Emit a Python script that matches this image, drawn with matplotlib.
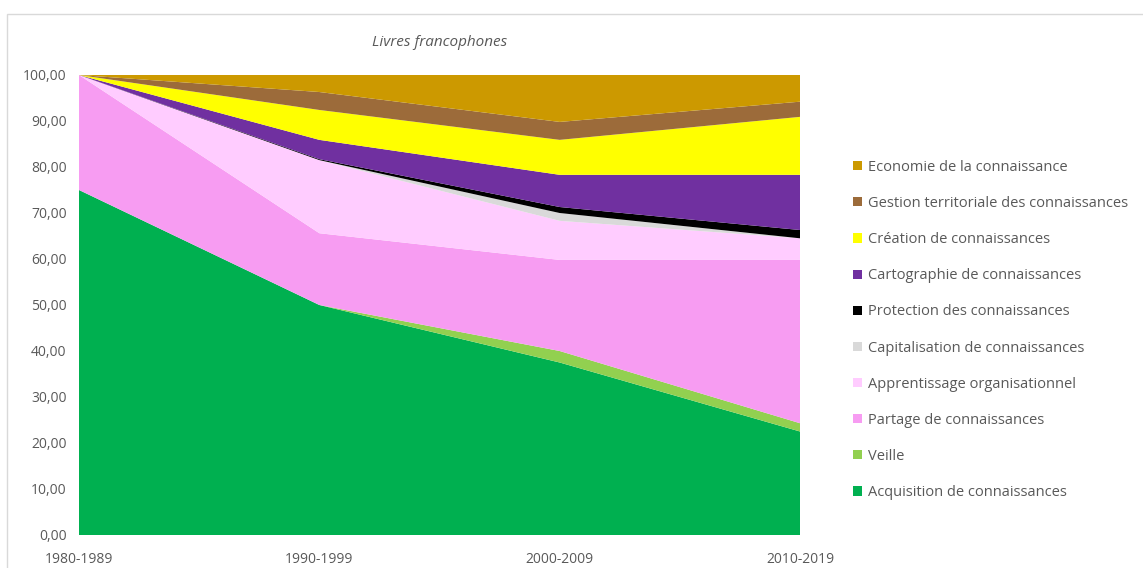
import matplotlib.pyplot as plt
from matplotlib.patches import Rectangle

# --- Data (percentages per decade)
periods = ['1980-1989', '1990-1999', '2000-2009', '2010-2019']
acquisition    = [75.0, 50.0, 37.5, 22.5]
veille         = [0.0, 0.0, 2.5, 1.8]
partage        = [25.0, 15.6, 19.8, 35.5]
apprentissage  = [0.0, 15.9, 8.5, 4.7]
capitalisation = [0.0, 0.0, 1.7, 0.0]
protection     = [0.0, 0.2, 1.3, 1.8]
cartographie   = [0.0, 4.2, 7.0, 12.0]
creation       = [0.0, 6.5, 7.6, 12.6]
gestion        = [0.0, 3.9, 3.9, 3.3]
economie       = [0.0, 3.7, 10.2, 5.8]

labels = ['Acquisition de connaissances', 'Veille', 'Partage de connaissances',
          'Apprentissage organisationnel', 'Capitalisation de connaissances',
          'Protection des connaissances', 'Cartographie de connaissances',
          'Création de connaissances', 'Gestion territoriale des connaissances',
          'Economie de la connaissance']
colors = ['#00B050', '#92D050', '#F79CF2', '#FFCCFF', '#D9D9D9',
          '#000000', '#7030A0', '#FFFF00', '#9C6B3A', '#CC9900']

series = [acquisition, veille, partage, apprentissage, capitalisation,
          protection, cartographie, creation, gestion, economie]

plt.rcParams['font.family'] = ['Open Sans', 'DejaVu Sans']

# --- Plot
fig = plt.figure(figsize=(11.43, 5.68), dpi=100)
fig.patches.append(Rectangle((7/1143, -0.1), 1.2, (568-14)/568 + 0.1,
                             transform=fig.transFigure, fill=False,
                             edgecolor='#D9D9D9', linewidth=1.0))
ax = fig.add_axes([79/1143, 33/568, 721/1143, 460/568])
x = list(range(len(periods)))
ax.stackplot(x, *series, colors=colors, labels=labels, linewidth=0)

ax.set_xlim(0, 3)
ax.set_ylim(0, 100)
ax.set_yticks(range(0, 101, 10))
ax.set_yticklabels([f'{v:.2f}'.replace('.', ',') for v in range(0, 101, 10)])
ax.set_xticks(x)
ax.set_xticklabels(periods)
ax.tick_params(axis='both', length=0, labelsize=10, labelcolor='#595959')
ax.tick_params(axis='y', pad=9)
ax.tick_params(axis='x', pad=12)
for s in ax.spines.values():
    s.set_visible(False)

fig.text(440/1143, 1 - 42/568, 'Livres francophones', ha='center', va='center',
         fontsize=11, style='italic', color='#595959')

handles, labs = ax.get_legend_handles_labels()
ax.legend(handles[::-1], labs[::-1], loc='center left',
          bbox_to_anchor=(840/1143, 1 - 330/568), bbox_transform=fig.transFigure,
          frameon=False, fontsize=10.5, handlelength=0.6, handleheight=0.6,
          handletextpad=0.4, labelspacing=1.45, labelcolor='#595959')

fig.savefig('out.png', dpi=100)
